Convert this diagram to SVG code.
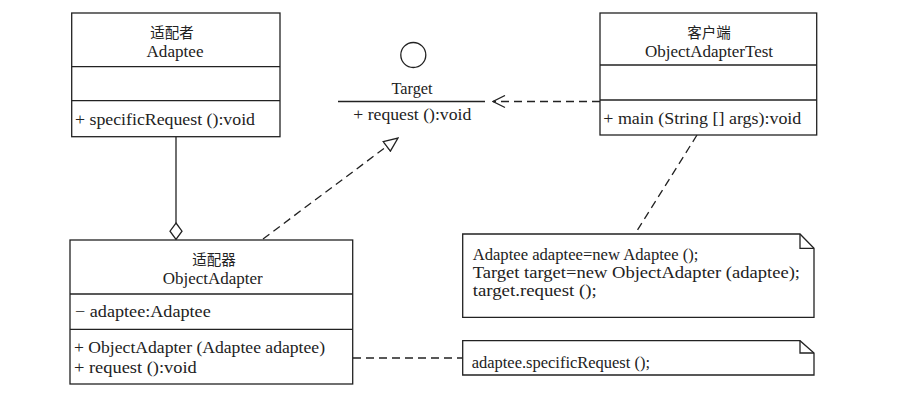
<svg xmlns="http://www.w3.org/2000/svg" width="901" height="405" viewBox="0 0 901 405">
<style>
.box{fill:#fff;stroke:#222;stroke-width:1.3}
.ln{fill:none;stroke:#222;stroke-width:1.3}
.dash{fill:none;stroke:#222;stroke-width:1.3;stroke-dasharray:8 5}
text{font-family:"Liberation Serif","Noto Sans CJK SC",serif;font-size:16px;fill:#222}
.cjk{font-family:"Noto Sans CJK SC",sans-serif;font-size:14.5px}
.c{text-anchor:middle}
</style>
<defs>
<marker id="open" viewBox="0 0 14 14" refX="13" refY="7" markerWidth="14" markerHeight="14" markerUnits="userSpaceOnUse" orient="auto">
<path d="M1,1 L13,7 L1,13" fill="none" stroke="#222" stroke-width="1.3"/>
</marker>
<marker id="tri" viewBox="0 0 16 14" refX="15" refY="7" markerWidth="16" markerHeight="14" markerUnits="userSpaceOnUse" orient="auto">
<path d="M1,1 L15,7 L1,13 Z" fill="#fff" stroke="#222" stroke-width="1.3"/>
</marker>
</defs>
<rect width="901" height="405" fill="#fff"/>

<g id="connectors">
<line class="ln" x1="176" y1="137" x2="176" y2="223"/>
<polygon class="box" points="176,223 182,231.2 176,239.5 170,231.2"/>
<line class="dash" x1="263" y1="239" x2="398" y2="138" marker-end="url(#tri)"/>
<line class="dash" x1="600" y1="101.5" x2="493" y2="101.5" marker-end="url(#open)"/>
<line class="dash" x1="697" y1="135" x2="635" y2="234"/>
<line class="dash" x1="353" y1="358" x2="463" y2="358"/>
</g>

<g id="adaptee">
<rect class="box" x="71.7" y="13" width="208.3" height="123.7"/>
<line class="ln" x1="71.7" y1="66.7" x2="280" y2="66.7"/>
<line class="ln" x1="71.7" y1="100.7" x2="280" y2="100.7"/>
<text class="cjk c" x="172" y="38">适配者</text>
<text class="c" x="175" y="56.7" textLength="57" lengthAdjust="spacingAndGlyphs">Adaptee</text>
<text x="75" y="125" textLength="180" lengthAdjust="spacingAndGlyphs">+ specificRequest ():void</text>
</g>

<g id="target">
<circle class="box" cx="413.3" cy="55" r="12.5"/>
<text class="c" x="412" y="94" textLength="41" lengthAdjust="spacingAndGlyphs">Target</text>
<line class="ln" x1="338" y1="101.5" x2="485" y2="101.5"/>
<text x="353.3" y="120" textLength="118" lengthAdjust="spacingAndGlyphs">+ request ():void</text>
</g>

<g id="client">
<rect class="box" x="600" y="13" width="216.7" height="122"/>
<line class="ln" x1="600" y1="65" x2="816.7" y2="65"/>
<line class="ln" x1="600" y1="100" x2="816.7" y2="100"/>
<text class="cjk c" x="709" y="38">客户端</text>
<text class="c" x="709" y="57" textLength="128" lengthAdjust="spacingAndGlyphs">ObjectAdapterTest</text>
<text x="603.3" y="124" textLength="198" lengthAdjust="spacingAndGlyphs">+ main (String [] args):void</text>
</g>

<g id="objectadapter">
<rect class="box" x="70" y="240" width="282.7" height="144"/>
<line class="ln" x1="70" y1="294" x2="352.7" y2="294"/>
<line class="ln" x1="70" y1="329.3" x2="352.7" y2="329.3"/>
<text class="cjk c" x="214" y="265">适配器</text>
<text class="c" x="212.7" y="284" textLength="100" lengthAdjust="spacingAndGlyphs">ObjectAdapter</text>
<text x="75" y="317.3" textLength="135.7" lengthAdjust="spacingAndGlyphs">− adaptee:Adaptee</text>
<text x="74" y="352.7" textLength="251" lengthAdjust="spacingAndGlyphs">+ ObjectAdapter (Adaptee adaptee)</text>
<text x="74" y="372.7" textLength="122.7" lengthAdjust="spacingAndGlyphs">+ request ():void</text>
</g>

<g id="note1">
<path class="box" d="M462.7,234 H800 L814,248.3 V317.3 H462.7 Z"/>
<path class="ln" d="M800,234 V248.3 H814"/>
<text x="472.7" y="260" textLength="225.7" lengthAdjust="spacingAndGlyphs">Adaptee adaptee=new Adaptee ();</text>
<text x="472.7" y="278" textLength="327.3" lengthAdjust="spacingAndGlyphs">Target target=new ObjectAdapter (adaptee);</text>
<text x="472.7" y="296" textLength="124" lengthAdjust="spacingAndGlyphs">target.request ();</text>
</g>

<g id="note2">
<path class="box" d="M462.7,340.7 H800 L814,353 V375 H462.7 Z"/>
<path class="ln" d="M800,340.7 V353 H814"/>
<text x="471.7" y="368" textLength="178.3" lengthAdjust="spacingAndGlyphs">adaptee.specificRequest ();</text>
</g>
</svg>
